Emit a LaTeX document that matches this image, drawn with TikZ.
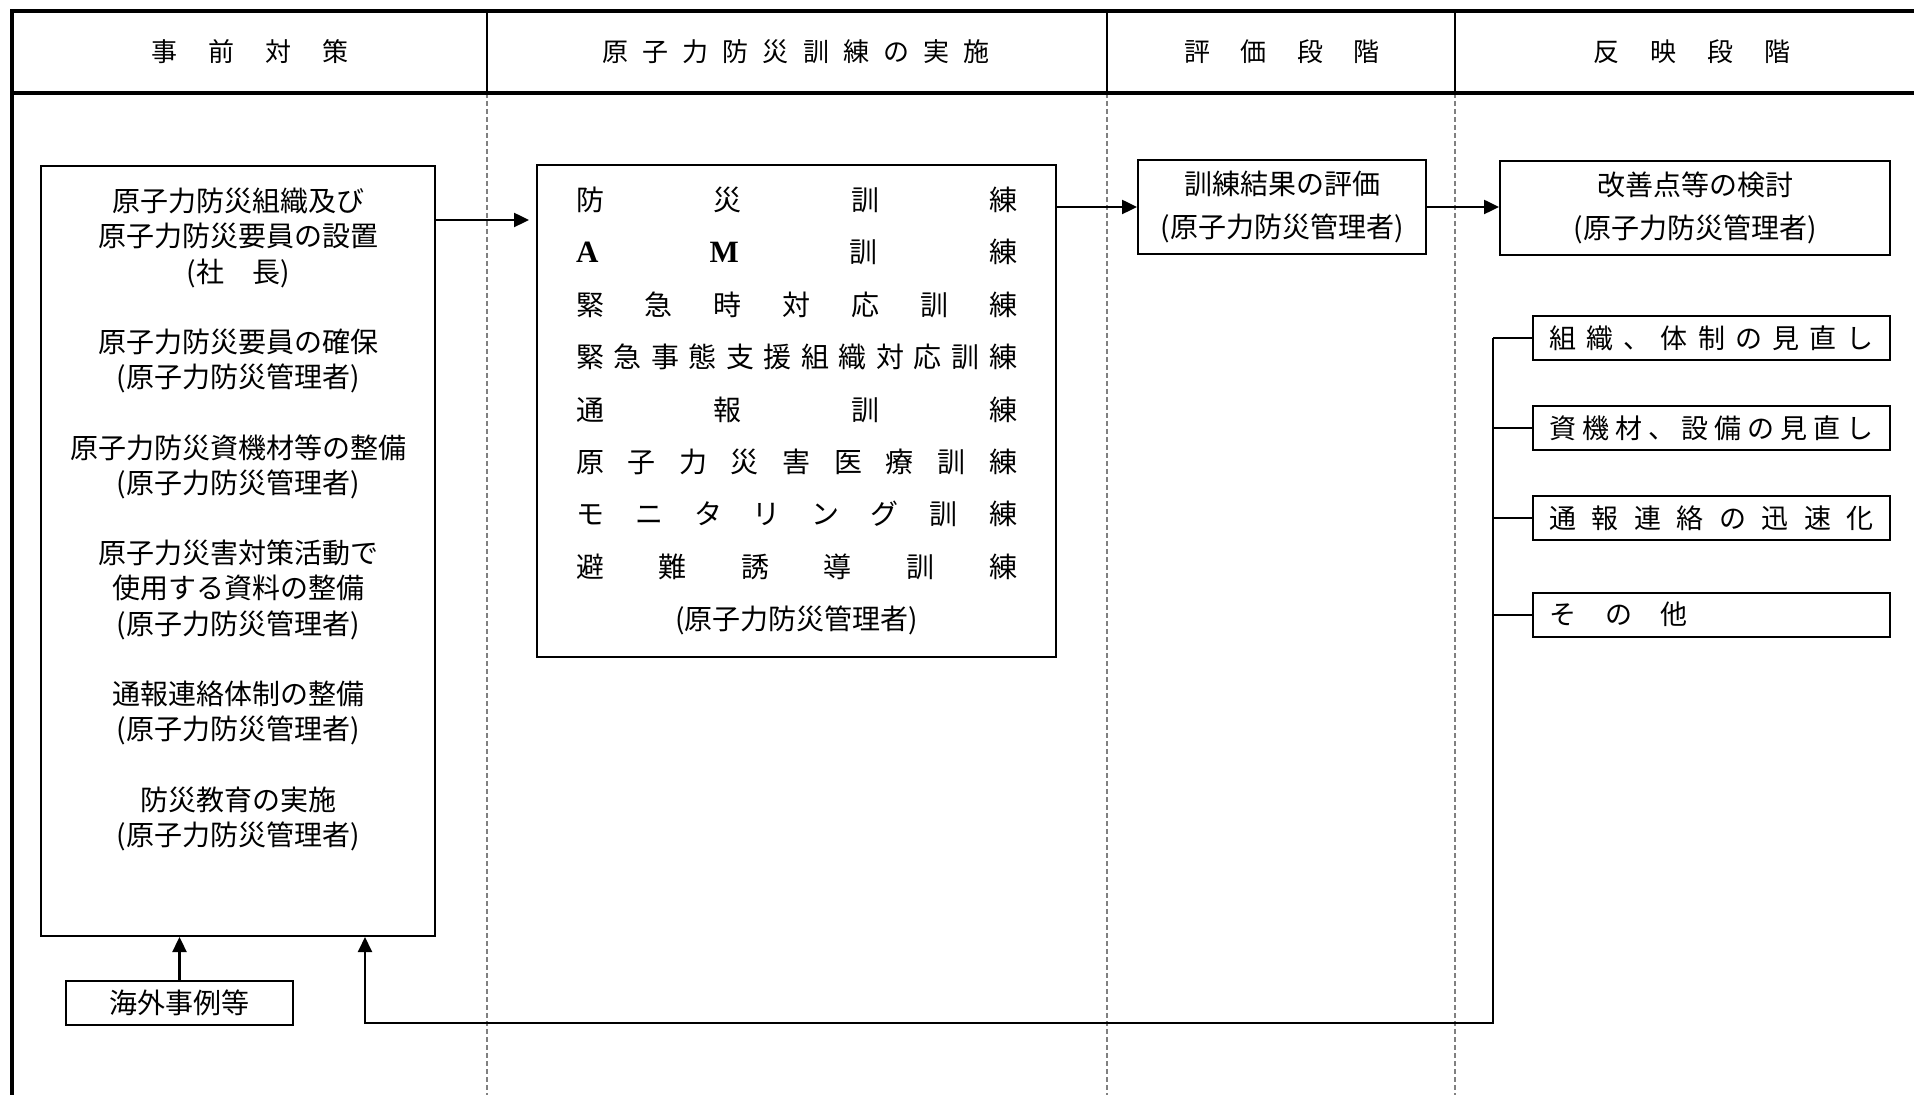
\documentclass[tikz,border=0pt]{standalone}
\usepackage{fontspec}
\setmainfont{Noto Sans CJK JP}
\newfontfamily\latserif{Liberation Serif}
\usetikzlibrary{arrows.meta}
\begin{document}
\begin{tikzpicture}[x=0.5pt,y=-0.5pt,
  box/.style={draw,line width=1pt,inner sep=0pt,align=center},
  arr/.style={line width=1.2pt,-{Triangle[length=7.5pt,width=7pt]}},
  conn/.style={line width=1pt},
  frame/.style={line width=2.2pt},
  divider/.style={line width=0.7pt},
  lane/.style={draw=gray,line width=0.6pt,dash pattern=on 2.5pt off 1.5pt},
  hdr/.style={font=\fontsize{13}{15}\selectfont},
  txt/.style={font=\fontsize{14}{17.6}\selectfont},
  small/.style={font=\fontsize{13.5}{16}\selectfont},
]
\useasboundingbox (0,0) rectangle (1914,1095);
\fill[white] (0,0) rectangle (1914,1095);

% lanes
\foreach \xx in {487,1107,1455}{
  \draw[divider] (\xx,11) -- (\xx,93);
  \draw[lane] (\xx,93) -- (\xx,1095);
}
% frame
\draw[frame] (1914,11) -- (12,11) -- (12,1095);
\draw[frame] (12,93) -- (1914,93);

% headers
\node[hdr] (h1) at (250,52) {\makebox[99pt]{事\hfill 前\hfill 対\hfill 策}};
\node[hdr] (h2) at (796,52) {\makebox[193.5pt]{原\hfill 子\hfill 力\hfill 防\hfill 災\hfill 訓\hfill 練\hfill の\hfill 実\hfill 施}};
\node[hdr] (h3) at (1282,52) {\makebox[97.5pt]{評\hfill 価\hfill 段\hfill 階}};
\node[hdr] (h4) at (1692,52) {\makebox[98.5pt]{反\hfill 映\hfill 段\hfill 階}};

% box A
\node[box, minimum width=197pt, minimum height=385pt] (A) at (238,551) {};
\node[txt, align=center] (Atxt) at (238,519.5) {原子力防災組織及び\\原子力防災要員の設置\\(社　長)\\[17.6pt]
原子力防災要員の確保\\(原子力防災管理者)\\[17.6pt]
原子力防災資機材等の整備\\(原子力防災管理者)\\[17.6pt]
原子力災害対策活動で\\使用する資料の整備\\(原子力防災管理者)\\[17.6pt]
通報連絡体制の整備\\(原子力防災管理者)\\[17.6pt]
防災教育の実施\\(原子力防災管理者)};

% box B
\node[box, minimum width=259.5pt, minimum height=246pt, font=\fontsize{14}{26.2}\selectfont] (B) at (796.5,411) {%
\makebox[220.5pt]{防\hfill 災\hfill 訓\hfill 練}\\
\makebox[220.5pt]{{\latserif\bfseries\fontsize{15.5}{18}\selectfont A}\hfill {\latserif\bfseries\fontsize{15.5}{18}\selectfont M}\hfill 訓\hfill 練}\\
\makebox[220.5pt]{緊\hfill 急\hfill 時\hfill 対\hfill 応\hfill 訓\hfill 練}\\
\makebox[220.5pt]{緊\hfill 急\hfill 事\hfill 態\hfill 支\hfill 援\hfill 組\hfill 織\hfill 対\hfill 応\hfill 訓\hfill 練}\\
\makebox[220.5pt]{通\hfill 報\hfill 訓\hfill 練}\\
\makebox[220.5pt]{原\hfill 子\hfill 力\hfill 災\hfill 害\hfill 医\hfill 療\hfill 訓\hfill 練}\\
\makebox[220.5pt]{モ\hfill ニ\hfill タ\hfill リ\hfill ン\hfill グ\hfill 訓\hfill 練}\\
\makebox[220.5pt]{避\hfill 難\hfill 誘\hfill 導\hfill 訓\hfill 練}\\
(原子力防災管理者)};

% box C, D
\node[box, minimum width=144pt, minimum height=47pt, font=\fontsize{14}{21.5}\selectfont] (C) at (1282,207) {訓練結果の評価\\(原子力防災管理者)};
\node[box, minimum width=195pt, minimum height=47pt, font=\fontsize{14}{21.5}\selectfont] (D) at (1695,208) {改善点等の検討\\(原子力防災管理者)};

% boxes E-H
\node[box, small, minimum width=178.5pt, minimum height=22pt] (E) at (1711.5,338.5) {\makebox[162pt]{組\hfill 織\hfill 、\hfill 体\hfill 制\hfill の\hfill 見\hfill 直\hfill し}};
\node[box, small, minimum width=178.5pt, minimum height=22pt] (F) at (1711.5,428) {\makebox[162pt]{資\hfill 機\hfill 材\hfill 、\hfill 設\hfill 備\hfill の\hfill 見\hfill 直\hfill し}};
\node[box, small, minimum width=178.5pt, minimum height=22pt] (G) at (1711.5,518) {\makebox[162pt]{通\hfill 報\hfill 連\hfill 絡\hfill の\hfill 迅\hfill 速\hfill 化}};
\node[box, small, minimum width=178.5pt, minimum height=22pt] (H) at (1711.5,614.5) {\makebox[162pt][l]{\makebox[69pt]{そ\hfill の\hfill 他}}};

% box I
\node[box, txt, minimum width=113.5pt, minimum height=22pt] (I) at (179.5,1003) {海外事例等};

% connectors
\path ([yshift=-27.5pt]A.north east) coordinate (a1);
\draw[arr, shorten >=3.5pt] (a1) -- (a1 -| B.west);
\draw[arr] (B.east |- C.west) -- (C.west);
\draw[arr] (C.east) -- (C.east -| D.west);
\draw[arr] (I.north) -- (I.north |- A.south);

\coordinate (busB) at (1493,1023);
\coordinate (fbL) at (365,1023);
\draw[conn] (E.west) -- (E.west -| busB);
\draw[conn] (F.west) -- (F.west -| busB);
\draw[conn] (G.west) -- (G.west -| busB);
\draw[conn] (H.west) -- (H.west -| busB);
\draw[arr, line width=1pt] (E.west -| busB) -- (busB) -- (fbL) -- (fbL |- A.south);
\end{tikzpicture}
\end{document}
